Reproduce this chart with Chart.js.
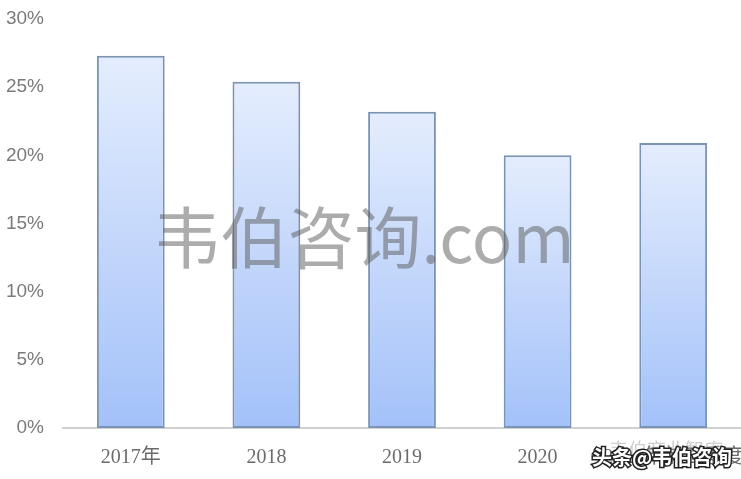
<!DOCTYPE html>
<html>
<head>
<meta charset="utf-8">
<script src="https://cdn.jsdelivr.net/npm/chart.js@4/dist/chart.umd.min.js"></script>
<style>
    html, body { margin: 0; padding: 0; background: #fff; }
    #wrap { width: 741px; height: 479px; }
</style>
</head>
<body>
<div id="wrap"><canvas id="rateChart"></canvas></div>
<script>
const years = ["2017年", "2018", "2019", "2020", "2021年前三季度"];
const rates = [27.3, 25.4, 23.2, 20.0, 20.9];
const yTicks = [0, 5, 10, 15, 20, 25, 30];

// per-bar vertical gradient, light on top, deeper blue at the base
function barGradient(context) {
    const chart = context.chart;
    const area = chart.chartArea;
    if (!area) return "#c5d8fb";
    const top = chart.scales.y.getPixelForValue(context.raw);
    const g = chart.ctx.createLinearGradient(0, top, 0, area.bottom);
    g.addColorStop(0, "#e4edfd");
    g.addColorStop(1, "#a3c1f9");
    return g;
}

const watermark = {
    id: "watermark",
    afterDraw(chart) {
        const ctx = chart.ctx;
        ctx.save();
        ctx.font = "67px 'Noto Sans CJK SC'";
        ctx.fillStyle = "rgba(90,90,90,0.5)";
        ctx.textAlign = "center";
        ctx.textBaseline = "middle";
        ctx.fillText("韦伯咨询.com", 364, 238);

        ctx.font = "19px 'Noto Sans CJK SC'";
        ctx.fillStyle = "rgba(160,160,160,0.5)";
        ctx.fillText("韦伯商业智库", 666, 450);
        ctx.font = "bold 20px 'Noto Sans CJK SC'";
        ctx.lineWidth = 3;
        ctx.strokeStyle = "#222";
        ctx.strokeText("头条@韦伯咨询", 662, 457);
        ctx.fillStyle = "#fff";
        ctx.fillText("头条@韦伯咨询", 662, 457);
        ctx.restore();
    }
};

new Chart(document.getElementById("rateChart"), {
    type: "bar",
    data: {
        labels: years,
        datasets: [{
            data: rates,
            backgroundColor: barGradient,
            borderColor: "#7b93b4",
            borderWidth: 2,
            borderSkipped: false,
            barPercentage: 0.5,
            categoryPercentage: 1
        }]
    },
    options: {
        responsive: true,
        maintainAspectRatio: false,
        animation: false,
        layout: { padding: { top: 19, right: 0, left: 0, bottom: 0 } },
        plugins: { legend: { display: false }, tooltip: { enabled: false } },
        scales: {
            x: {
                grid: { display: false, drawTicks: false },
                border: { color: "#d0d0d0", width: 2 },
                ticks: {
                    color: "#6b6b6b",
                    font: { family: "'Liberation Serif', 'Noto Sans CJK SC'", size: 20 },
                    padding: 18,
                    autoSkip: false,
                    maxRotation: 0
                },
                afterFit(scale) {
                    scale.height = 51;
                    scale.paddingLeft = 0;
                    scale.paddingRight = 0;
                }
            },
            y: {
                min: 0,
                max: 30,
                grid: { display: false, drawTicks: false },
                border: { display: false },
                afterBuildTicks(scale) { scale.ticks = yTicks.map(v => ({ value: v })); },
                ticks: {
                    color: "#7a7a7a",
                    font: { family: "'Liberation Sans'", size: 19 },
                    padding: 19,
                    callback: v => v + "%"
                },
                afterFit(scale) {
                    scale.width = 63;
                    scale.paddingTop = 0;
                    scale.paddingBottom = 0;
                }
            }
        }
    },
    plugins: [watermark]
});
</script>
</body>
</html>
